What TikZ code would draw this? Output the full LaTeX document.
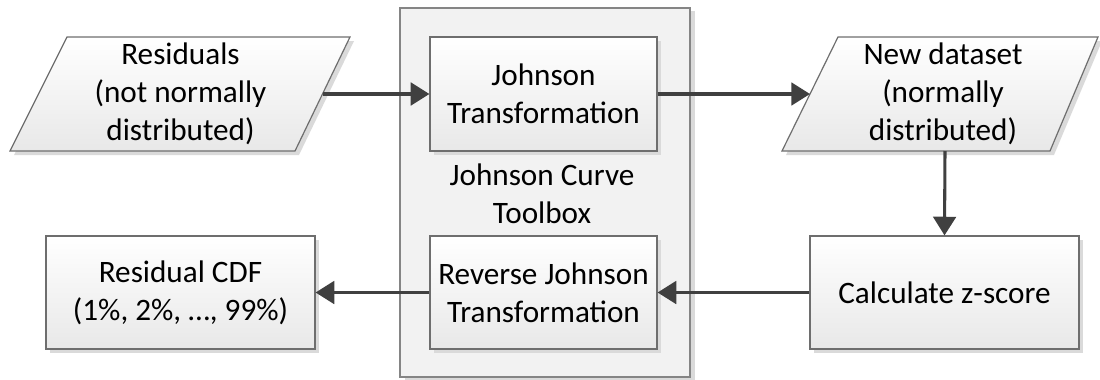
\documentclass[tikz,border=0pt]{standalone}
\usepackage{fontspec}
\setmainfont{Carlito}
\usetikzlibrary{arrows.meta,shadows}
\definecolor{edge}{HTML}{6E6E6E}
\definecolor{wire}{HTML}{404040}
\definecolor{shade}{HTML}{DADADA}
\tikzset{
  txt/.style={align=center, font=\fontsize{23.4}{28.5}\selectfont, text=black},
  procbox/.style={draw=edge, line width=0.9pt, top color=white, bottom color=black!9,
    minimum width=#1, general shadow={fill=shade, shadow xshift=3pt, shadow yshift=-3pt}},
  iobox/.style={draw=edge, line width=0.9pt, top color=white, bottom color=black!9},
  ioshadow/.style={fill=shade},
  flow/.style={draw=wire, line width=2.3pt, -{Triangle[length=14pt,width=17pt]}},
}
\begin{document}
\begin{tikzpicture}[x=0.75pt,y=-0.75pt]
\useasboundingbox (0,0) rectangle (1100,379);

% toolbox container
\node[draw=black!48, line width=1.4pt, fill=black!5, minimum width=217.5pt, minimum height=276.75pt,
  general shadow={fill=shade, shadow xshift=4pt, shadow yshift=-2pt}] (tool) at (545,192.5) {};
\node[txt] (toollabel) at (542,194) {Johnson Curve\\Toolbox};

% input parallelogram
\fill[ioshadow] (71,41) -- (354,41) -- (299,155) -- (14,155) -- cycle;
\draw[iobox] (67,37) -- (350,37) -- (295,151) -- (10,151) -- cycle;
\node[txt] (resid) at (180.5,94) {Residuals\\(not normally\\distributed)};
\coordinate (residout) at (322.5,94);

% output parallelogram
\fill[ioshadow] (842,41) -- (1102,41) -- (1054,155) -- (786,155) -- cycle;
\draw[iobox] (838,37) -- (1098,37) -- (1050,151) -- (782,151) -- cycle;
\node[txt] (newdata) at (943,94) {New dataset\\(normally\\distributed)};
\coordinate (newin) at (810,94);
\coordinate (newout) at (945,151);

% process boxes
\node[procbox=170.25pt, minimum height=85.5pt, txt] (john) at (543.5,94) {Johnson\\Transformation};
\node[procbox=170.25pt, minimum height=84.75pt, txt] (rev) at (543.5,292.5) {Reverse Johnson\\Transformation};
\node[procbox=201.75pt, minimum height=84.75pt, txt] (zscore) at (944.5,292.5) {Calculate z-score};
\node[procbox=201.75pt, minimum height=84.75pt, txt] (cdf) at (180.5,292.5) {Residual CDF\\(1\%, 2\%, …, 99\%)};

% connectors
\draw[flow] (residout) -- (john.west);
\draw[flow] (john.east) -- (newin);
\draw[flow] (newout) -- (zscore.north);
\draw[flow] (zscore.west) -- (rev.east);
\draw[flow] (rev.west) -- (cdf.east);
\end{tikzpicture}
\end{document}
